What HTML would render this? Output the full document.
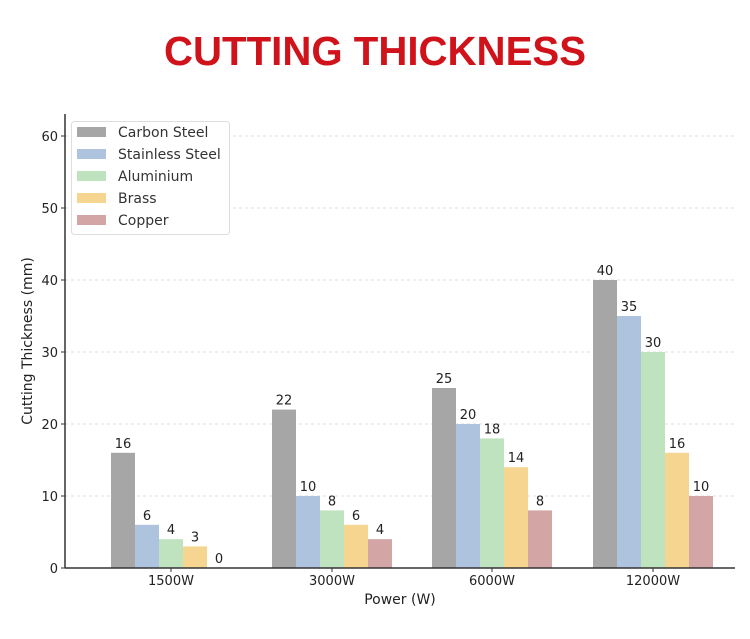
<!DOCTYPE html>
<html><head><style>body{margin:0;background:#fff}svg{display:block}</style></head><body>
<svg width="750" height="639" xmlns="http://www.w3.org/2000/svg" font-family="DejaVu Sans, Liberation Sans, sans-serif">
<rect width="750" height="639" fill="#fff"/>
<text x="375" y="65" text-anchor="middle" font-family="Liberation Sans, sans-serif" font-weight="bold" font-size="41" fill="#d0121b" textLength="422" lengthAdjust="spacingAndGlyphs">CUTTING THICKNESS</text>
<g stroke="#ddd" stroke-dasharray="3,3" stroke-width="1">
<line x1="65" x2="735" y1="496" y2="496"/><line x1="65" x2="735" y1="424" y2="424"/><line x1="65" x2="735" y1="352" y2="352"/><line x1="65" x2="735" y1="280" y2="280"/><line x1="65" x2="735" y1="208" y2="208"/><line x1="65" x2="735" y1="136" y2="136"/>
</g>
<g>
<rect x="111" y="452.8" width="24" height="115.2" fill="#a6a6a6"/>
<rect x="135" y="524.8" width="24" height="43.2" fill="#aec4de"/>
<rect x="159" y="539.2" width="24" height="28.8" fill="#bfe2bf"/>
<rect x="183" y="546.4" width="24" height="21.6" fill="#f5d58f"/>
<rect x="272" y="409.6" width="24" height="158.4" fill="#a6a6a6"/>
<rect x="296" y="496" width="24" height="72" fill="#aec4de"/>
<rect x="320" y="510.4" width="24" height="57.6" fill="#bfe2bf"/>
<rect x="344" y="524.8" width="24" height="43.2" fill="#f5d58f"/>
<rect x="368" y="539.2" width="24" height="28.8" fill="#d4a5a5"/>
<rect x="432" y="388" width="24" height="180" fill="#a6a6a6"/>
<rect x="456" y="424" width="24" height="144" fill="#aec4de"/>
<rect x="480" y="438.4" width="24" height="129.6" fill="#bfe2bf"/>
<rect x="504" y="467.2" width="24" height="100.8" fill="#f5d58f"/>
<rect x="528" y="510.4" width="24" height="57.6" fill="#d4a5a5"/>
<rect x="593" y="280" width="24" height="288" fill="#a6a6a6"/>
<rect x="617" y="316" width="24" height="252" fill="#aec4de"/>
<rect x="641" y="352" width="24" height="216" fill="#bfe2bf"/>
<rect x="665" y="452.8" width="24" height="115.2" fill="#f5d58f"/>
<rect x="689" y="496" width="24" height="72" fill="#d4a5a5"/>
</g>
<g font-size="13" fill="#222" text-anchor="middle">
<text x="123" y="447.8">16</text><text x="147" y="519.8">6</text><text x="171" y="534.2">4</text><text x="195" y="541.4">3</text><text x="219" y="563">0</text>
<text x="284" y="404.6">22</text><text x="308" y="491">10</text><text x="332" y="505.4">8</text><text x="356" y="519.8">6</text><text x="380" y="534.2">4</text>
<text x="444" y="383">25</text><text x="468" y="419">20</text><text x="492" y="433.4">18</text><text x="516" y="462.2">14</text><text x="540" y="505.4">8</text>
<text x="605" y="275">40</text><text x="629" y="311">35</text><text x="653" y="347">30</text><text x="677" y="447.8">16</text><text x="701" y="491">10</text>
</g>
<line x1="65" y1="114" x2="65" y2="568" stroke="#333" stroke-width="1.5"/>
<line x1="65" y1="568" x2="735" y2="568" stroke="#333" stroke-width="1.5"/>
<g font-size="13" fill="#222" text-anchor="end">
<text x="58" y="573">0</text><text x="58" y="501">10</text><text x="58" y="429">20</text><text x="58" y="357">30</text><text x="58" y="285">40</text><text x="58" y="213">50</text><text x="58" y="141">60</text>
</g>
<g stroke="#333"><line x1="61" x2="65" y1="568" y2="568"/><line x1="61" x2="65" y1="496" y2="496"/><line x1="61" x2="65" y1="424" y2="424"/><line x1="61" x2="65" y1="352" y2="352"/><line x1="61" x2="65" y1="280" y2="280"/><line x1="61" x2="65" y1="208" y2="208"/><line x1="61" x2="65" y1="136" y2="136"/></g>
<text transform="translate(32,341) rotate(-90)" text-anchor="middle" font-size="14" fill="#222">Cutting Thickness (mm)</text>
<text x="400" y="604" text-anchor="middle" font-size="14" fill="#222">Power (W)</text>
<g font-size="13" fill="#222" text-anchor="middle">
<text x="171" y="585">1500W</text><text x="332" y="585">3000W</text><text x="492" y="585">6000W</text><text x="653" y="585">12000W</text>
</g>
<g stroke="#333"><line x1="171" x2="171" y1="568" y2="572"/><line x1="332" x2="332" y1="568" y2="572"/><line x1="492" x2="492" y1="568" y2="572"/><line x1="653" x2="653" y1="568" y2="572"/></g>
<g>
<rect x="71.5" y="121.5" width="158" height="113" rx="3" fill="#fff" stroke="#ddd"/>
<rect x="77" y="127" width="29" height="10" fill="#a6a6a6"/>
<rect x="77" y="149" width="29" height="10" fill="#aec4de"/>
<rect x="77" y="171" width="29" height="10" fill="#bfe2bf"/>
<rect x="77" y="193" width="29" height="10" fill="#f5d58f"/>
<rect x="77" y="215" width="29" height="10" fill="#d4a5a5"/>
<g font-size="14" fill="#333"><text x="118" y="137">Carbon Steel</text><text x="118" y="159">Stainless Steel</text><text x="118" y="181">Aluminium</text><text x="118" y="203">Brass</text><text x="118" y="225">Copper</text></g>
</g>
</svg>
</body></html>
